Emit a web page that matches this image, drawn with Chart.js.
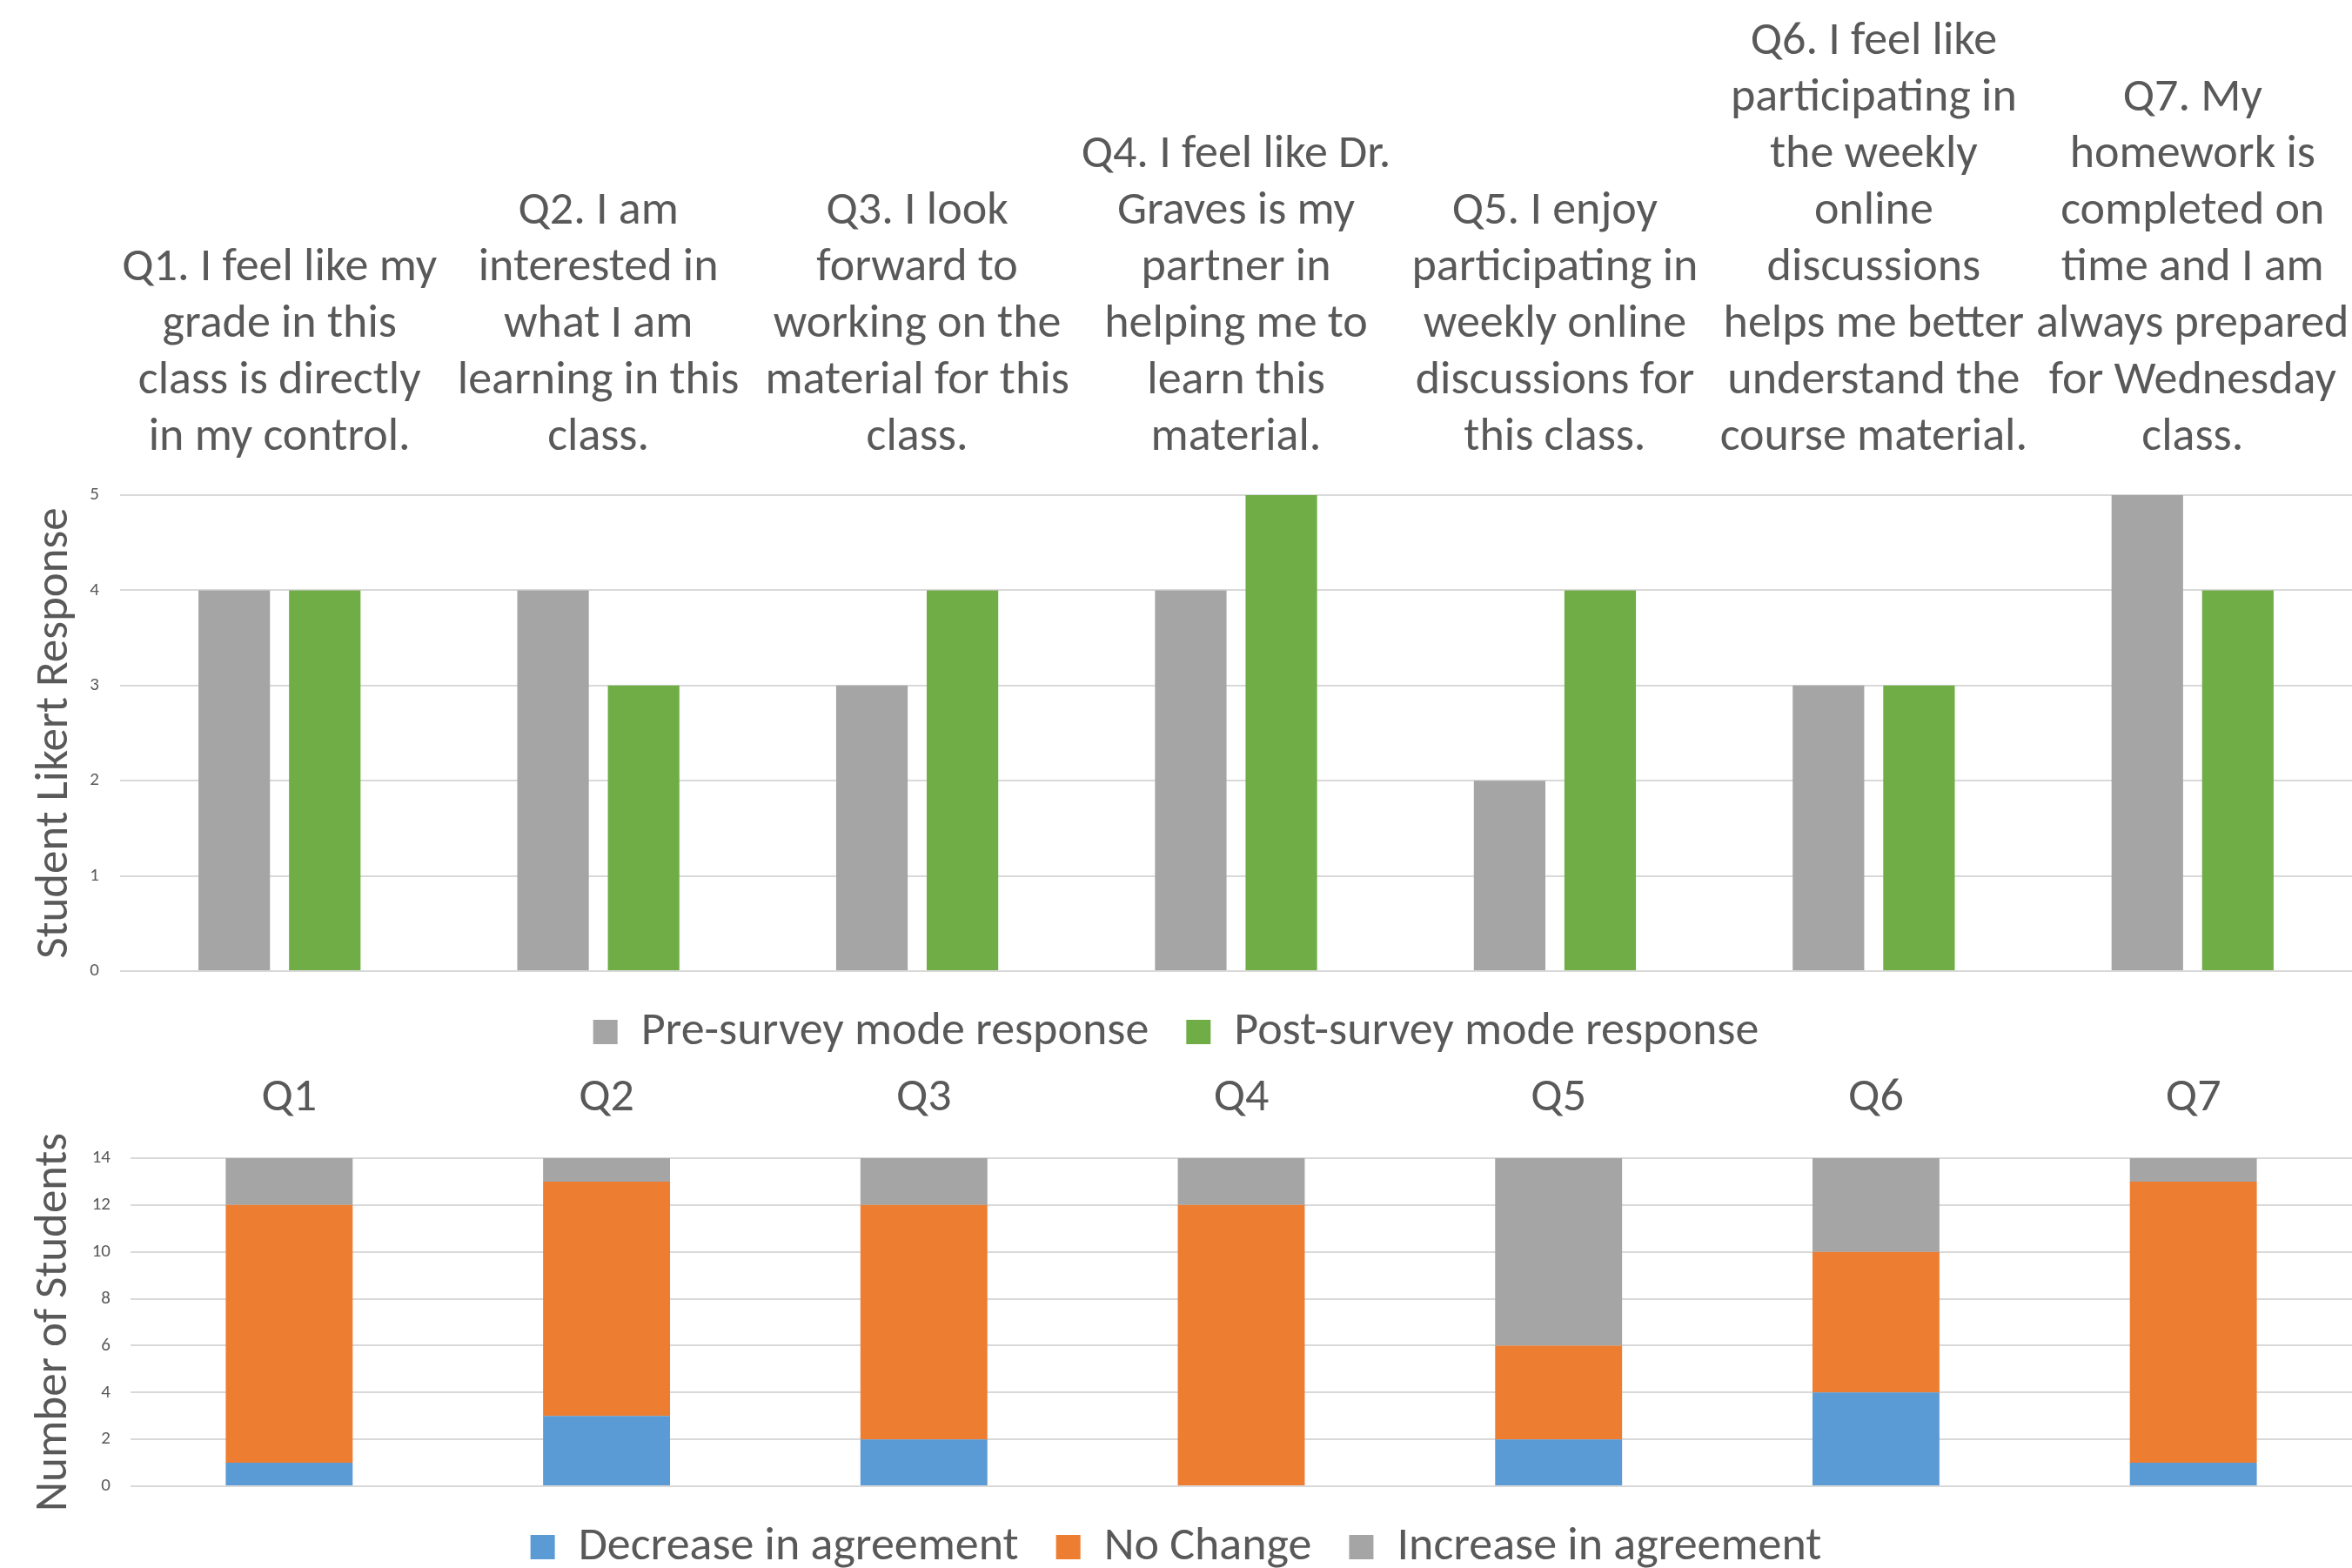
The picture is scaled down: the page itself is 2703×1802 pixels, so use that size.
<!DOCTYPE html>
<html>
<head>
<meta charset="utf-8">
<script src="https://cdn.jsdelivr.net/npm/chart.js@4.4.1/dist/chart.umd.min.js"></script>
<style>
  html, body { margin: 0; padding: 0; background: #ffffff; overflow: hidden; }
  body { width: 2703px; height: 1802px; position: relative; }
  canvas { position: absolute; left: 0; }
  #likert { top: 0; }
  #change { top: 1225px; }
</style>
</head>
<body>
<canvas id="likert" width="2703" height="1223"></canvas>
<canvas id="change" width="2703" height="590"></canvas>
<script>
// question texts, one array of lines per question
const questionLabels = [
    ['Q1. I feel like my', 'grade in this', 'class is directly', 'in my control.'],
    ['Q2. I am', 'interested in', 'what I am', 'learning in this', 'class.'],
    ['Q3. I look', 'forward to', 'working on the', 'material for this', 'class.'],
    ['Q4. I feel like Dr.', 'Graves is my', 'partner in', 'helping me to', 'learn this', 'material.'],
    ['Q5. I enjoy', 'participating in', 'weekly online', 'discussions for', 'this class.'],
    ['Q6. I feel like', 'participating in', 'the weekly', 'online', 'discussions', 'helps me better', 'understand the', 'course material.'],
    ['Q7. My', 'homework is', 'completed on', 'time and I am', 'always prepared', 'for Wednesday', 'class.']
];
const preSurvey = [4, 4, 3, 4, 2, 3, 5];
const postSurvey = [4, 3, 4, 5, 4, 3, 4];

const shortLabels = ['Q1', 'Q2', 'Q3', 'Q4', 'Q5', 'Q6', 'Q7'];
const decreaseCount = [1, 3, 2, 0, 2, 4, 1];
const noChangeCount = [11, 10, 10, 12, 4, 6, 12];
const increaseCount = [2, 1, 2, 2, 8, 4, 1];

const FONT = 'Carlito, Lato, sans-serif';
const TEXT = '#595959';
const GRID = '#D9D9D9';

Chart.defaults.font.family = FONT;
Chart.defaults.color = TEXT;

function fixedWidth(w) {
    return function (scale) { scale.width = w; };
}
// category axis on top: no side padding, tick padding counted once
function topAxisFit(scale) {
    scale.paddingLeft = 0;
    scale.paddingRight = 0;
    scale.height -= scale.options.ticks.padding;
}

const bigFont = { family: FONT, size: 54, lineHeight: 65 / 54 };

const legendOpts = {
    position: 'bottom',
    maxHeight: 120,
    labels: { boxWidth: 28, boxHeight: 28, padding: 43, color: TEXT, font: bigFont }
};

new Chart(document.getElementById('likert'), {
    type: 'bar',
    data: {
        labels: questionLabels,
        datasets: [{
            label: 'Pre-survey mode response',
            data: preSurvey,
            backgroundColor: '#A5A5A5'
        }, {
            label: 'Post-survey mode response',
            data: postSurvey,
            backgroundColor: '#70AD47'
        }]
    },
    options: {
        responsive: false,
        animation: false,
        devicePixelRatio: 1,
        categoryPercentage: 0.568,
        barPercentage: 0.79,
        layout: { padding: { top: 15.5, left: 0, right: 0, bottom: 0 } },
        plugins: { legend: legendOpts, tooltip: { enabled: false } },
        scales: {
            x: {
                position: 'top',
                grid: { display: false, drawTicks: false },
                border: { display: false },
                ticks: { font: bigFont, color: TEXT, padding: 33.5, autoSkip: false, maxRotation: 0, minRotation: 0 },
                afterFit: topAxisFit
            },
            y: {
                min: 0,
                max: 5,
                ticks: { stepSize: 1, font: { size: 21 }, color: TEXT, padding: 24 },
                grid: { color: GRID, lineWidth: 2, drawTicks: false },
                border: { display: false },
                title: { display: true, text: 'Student Likert Response', font: { size: 53 }, color: TEXT, padding: { top: 32, bottom: 0 } },
                afterFit: fixedWidth(138)
            }
        }
    }
});

new Chart(document.getElementById('change'), {
    type: 'bar',
    data: {
        labels: shortLabels,
        datasets: [{
            label: 'Decrease in agreement',
            data: decreaseCount,
            backgroundColor: '#5B9BD5'
        }, {
            label: 'No Change',
            data: noChangeCount,
            backgroundColor: '#ED7D31'
        }, {
            label: 'Increase in agreement',
            data: increaseCount,
            backgroundColor: '#A5A5A5'
        }]
    },
    options: {
        responsive: false,
        animation: false,
        devicePixelRatio: 1,
        categoryPercentage: 0.4,
        barPercentage: 1,
        layout: { padding: { top: 4.5, left: 0, right: 0, bottom: 0 } },
        plugins: { legend: legendOpts, tooltip: { enabled: false } },
        scales: {
            x: {
                position: 'top',
                stacked: true,
                grid: { display: false, drawTicks: false },
                border: { display: false },
                ticks: { font: bigFont, color: TEXT, padding: 36.5, autoSkip: false, maxRotation: 0 },
                afterFit: topAxisFit
            },
            y: {
                stacked: true,
                min: 0,
                max: 14,
                ticks: { stepSize: 2, font: { size: 21 }, color: TEXT, padding: 23 },
                grid: { color: GRID, lineWidth: 2, drawTicks: false },
                border: { display: false },
                title: { display: true, text: 'Number of Students', font: { size: 53 }, color: TEXT, padding: { top: 31, bottom: 0 } },
                afterFit: fixedWidth(150)
            }
        }
    }
});
</script>
</body>
</html>
